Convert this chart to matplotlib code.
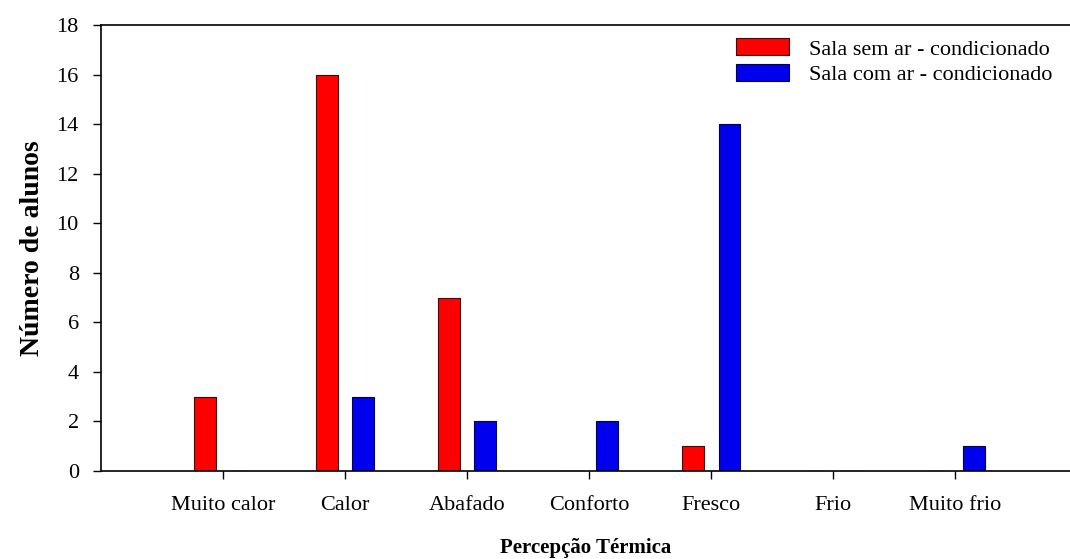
import numpy as np
import matplotlib.pyplot as plt

categorias = ['Muito calor', 'Calor', 'Abafado', 'Conforto', 'Fresco', 'Frio', 'Muito frio']
sem_ar = [3, 16, 7, 0, 1, 0, 0]
com_ar = [0, 3, 2, 2, 14, 0, 1]

plt.rcParams['font.family'] = ['Liberation Serif', 'DejaVu Serif']

fig = plt.figure(figsize=(10.7, 5.59), dpi=100)
ax = fig.add_axes([101/1070, 88/559, (1070-101)/1070, (471-25)/559])

x = np.arange(len(categorias))
w = 0.18
ax.bar(x - 0.15, sem_ar, w, color='#ff0000', edgecolor='#3a0000', lw=0.8,
       label='Sala sem ar - condicionado')
ax.bar(x + 0.15, com_ar, w, color='#0000ee', edgecolor='#000040', lw=0.8,
       label='Sala com ar - condicionado')

ax.set_xlim(-1, 6.94)
ax.set_ylim(0, 18)
ax.set_yticks(range(0, 19, 2))
ax.set_xticks(x)
ax.set_xticklabels(categorias)
ax.tick_params(direction='out', length=6, width=1, labelsize=16)
ax.tick_params(axis='x', pad=12)
ax.tick_params(axis='y', pad=10)
ax.spines['right'].set_visible(False)
for s in ['left', 'top', 'bottom']:
    ax.spines[s].set_linewidth(1.2)

ax.set_ylabel('Número de alunos', fontsize=20, fontweight='bold', labelpad=8)
fig.text(586/1070, 1 - 548/559, 'Percepção Térmica', fontsize=15, fontweight='bold',
         ha='center', va='center')

ax.legend(loc='upper right', bbox_to_anchor=(1.0, 1.01), frameon=False, fontsize=16,
          handlelength=2.4, handleheight=0.8, handletextpad=0.9, labelspacing=0.2,
          borderaxespad=0.4)

plt.savefig('out.png', dpi=100)
